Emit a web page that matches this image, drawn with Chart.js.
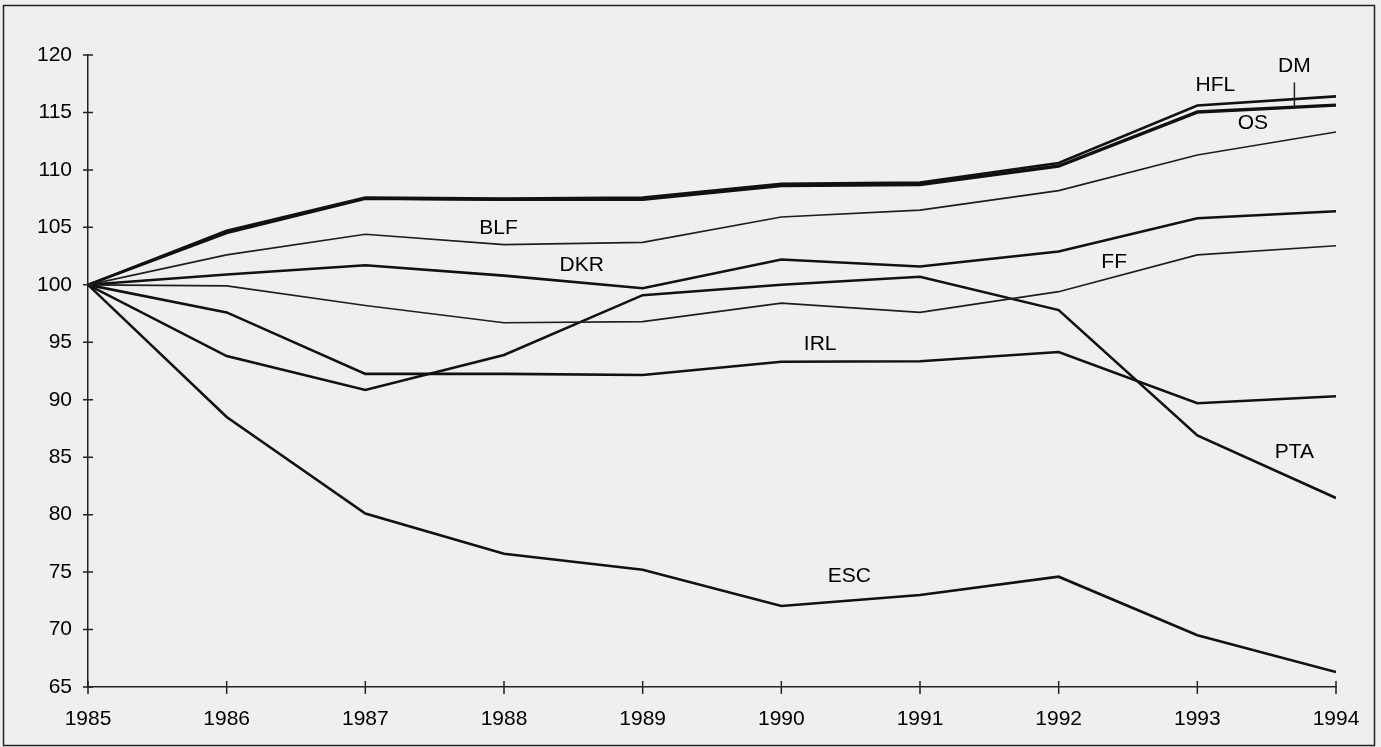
<!DOCTYPE html>
<html>
<head>
<meta charset="utf-8">
<script src="https://cdn.jsdelivr.net/npm/chart.js@4/dist/chart.umd.min.js"></script>
<style>
  html, body { margin: 0; padding: 0; background: #efefef; overflow: hidden; }
  canvas { display: block; }
</style>
</head>
<body>
<canvas id="chart" width="1381" height="747"></canvas>
<script>
// index 1985 = 100
const years = [1985, 1986, 1987, 1988, 1989, 1990, 1991, 1992, 1993, 1994];

const HFL = [100, 104.7, 107.6, 107.5, 107.6, 108.8, 108.9, 110.6, 115.6, 116.4];
const DM  = [100, 104.6, 107.5, 107.4, 107.5, 108.7, 108.8, 110.4, 115.1, 115.7];
const OS  = [100, 104.5, 107.5, 107.4, 107.4, 108.6, 108.7, 110.3, 115.0, 115.6];
const BLF = [100, 102.6, 104.4, 103.5, 103.7, 105.9, 106.5, 108.2, 111.3, 113.3];
const DKR = [100, 100.9, 101.7, 100.8, 99.7, 102.2, 101.6, 102.9, 105.8, 106.4];
const FF  = [100, 99.9, 98.2, 96.7, 96.8, 98.4, 97.6, 99.4, 102.6, 103.4];
const PTA = [100, 93.8, 90.85, 93.9, 99.1, 100.0, 100.7, 97.8, 86.9, 81.45];
const IRL = [100, 97.6, 92.25, 92.25, 92.15, 93.3, 93.35, 94.15, 89.7, 90.3];
const ESC = [100, 88.5, 80.1, 76.6, 75.2, 72.05, 73.0, 74.6, 69.5, 66.3];

const yTicks = [65, 70, 75, 80, 85, 90, 95, 100, 105, 110, 115, 120];

// labels written inside the plot (year, value where the text sits)
const tagNames  = ['HFL', 'DM', 'OS', 'BLF', 'DKR', 'FF', 'IRL', 'ESC', 'PTA'];
const tagYears  = [1993.13, 1993.70, 1993.40, 1987.96, 1988.56, 1992.40, 1990.28, 1990.49, 1993.70];
const tagValues = [117.4, 119.0, 114.1, 104.95, 101.7, 102.0, 94.8, 74.6, 85.4];

const FONT = '"Liberation Sans", Arial, sans-serif';
const FSIZE = 21;

function series(label, values, width, color) {
    return {
        label: label,
        data: years.map((y, i) => ({ x: y, y: values[i] })),
        borderColor: color,
        borderWidth: width,
        pointRadius: 0,
        tension: 0,
        fill: false
    };
}

// frame + background
const framePlugin = {
    id: 'frame',
    beforeDraw(chart) {
        const ctx = chart.ctx;
        ctx.save();
        ctx.fillStyle = '#efefef';
        ctx.fillRect(0, 0, chart.width, chart.height);
        ctx.strokeStyle = '#222';
        ctx.lineWidth = 1.5;
        ctx.strokeRect(3.5, 5.5, 1371, 740);
        ctx.restore();
    }
};

// ticks crossing the axes, and the text tags
const tagPlugin = {
    id: 'tags',
    afterDraw(chart) {
        const ctx = chart.ctx;
        const xs = chart.scales.x, ys = chart.scales.y;
        const area = chart.chartArea;
        ctx.save();
        ctx.strokeStyle = '#222';
        ctx.lineWidth = 1.5;
        ctx.beginPath();
        years.forEach(yr => {
            const px = xs.getPixelForValue(yr);
            ctx.moveTo(px, area.bottom - 6);
            ctx.lineTo(px, area.bottom + 7);
        });
        yTicks.forEach(v => {
            const py = ys.getPixelForValue(v);
            ctx.moveTo(area.left - 5, py);
            ctx.lineTo(area.left + 5, py);
        });
        // DM pointer line
        const dx = xs.getPixelForValue(tagYears[1]);
        ctx.moveTo(dx, ys.getPixelForValue(117.6));
        ctx.lineTo(dx, ys.getPixelForValue(115.5));
        ctx.stroke();

        ctx.fillStyle = '#000';
        ctx.font = FSIZE + 'px ' + FONT;
        ctx.textAlign = 'center';
        ctx.textBaseline = 'middle';
        tagNames.forEach((name, i) => {
            ctx.fillText(name, xs.getPixelForValue(tagYears[i]), ys.getPixelForValue(tagValues[i]));
        });
        ctx.restore();
    }
};

const THICK = 2.6, THIN = 1.7;

new Chart(document.getElementById('chart'), {
    type: 'line',
    data: {
        datasets: [
            series('HFL', HFL, THICK, '#111'),
            series('DM', DM, 2, '#111'),
            series('OS', OS, THICK, '#111'),
            series('BLF', BLF, THIN, '#1e1e1e'),
            series('DKR', DKR, THICK, '#111'),
            series('FF', FF, THIN, '#1e1e1e'),
            series('PTA', PTA, THICK, '#111'),
            series('IRL', IRL, THICK, '#111'),
            series('ESC', ESC, THICK, '#111')
        ]
    },
    options: {
        responsive: false,
        animation: false,
        layout: { padding: { top: 55, right: 45, bottom: 0, left: 0 } },
        plugins: {
            legend: { display: false },
            tooltip: { enabled: false }
        },
        scales: {
            x: {
                type: 'linear',
                min: 1985,
                max: 1994,
                grid: { display: true, drawOnChartArea: false, drawTicks: false },
                border: { display: true, color: '#222', width: 1.5 },
                ticks: {
                    stepSize: 1,
                    padding: 20,
                    color: '#000',
                    font: { family: FONT, size: FSIZE },
                    maxRotation: 0,
                    callback: v => String(v)
                },
                afterFit: s => { s.height = 60; }
            },
            y: {
                min: 65,
                max: 120,
                grid: { display: true, drawOnChartArea: false, drawTicks: false },
                border: { display: true, color: '#222', width: 1.5 },
                ticks: {
                    stepSize: 5,
                    padding: 16,
                    color: '#000',
                    font: { family: FONT, size: FSIZE }
                },
                afterFit: s => { s.width = 88; }
            }
        }
    },
    plugins: [framePlugin, tagPlugin]
});
</script>
</body>
</html>
